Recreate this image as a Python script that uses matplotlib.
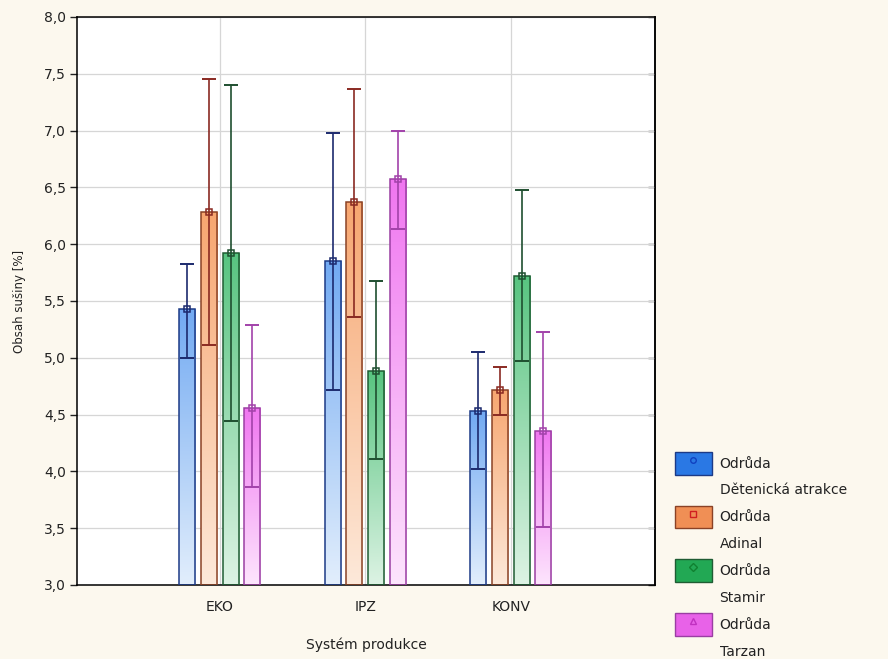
import numpy as np
import matplotlib
matplotlib.use("Agg")
import matplotlib.pyplot as plt
from matplotlib.colors import LinearSegmentedColormap
from matplotlib.patches import Patch
from matplotlib.lines import Line2D
from matplotlib.legend_handler import HandlerTuple
from matplotlib.ticker import FuncFormatter, MultipleLocator

# -----------------------------
# DATA
# -----------------------------
CATEGORIES = ["EKO", "IPZ", "KONV"]
VARIETIES = ["Dětenická atrakce", "Adinal", "Stamir", "Tarzan"]

MEAN_DET = [5.43, 5.85, 4.53]
LOW_DET = [5.00, 4.72, 4.02]
HIGH_DET = [5.83, 6.98, 5.05]

MEAN_ADI = [6.28, 6.37, 4.72]
LOW_ADI = [5.11, 5.36, 4.50]
HIGH_ADI = [7.45, 7.37, 4.92]

MEAN_STA = [5.92, 4.88, 5.72]
LOW_STA = [4.44, 4.11, 4.97]
HIGH_STA = [7.40, 5.68, 6.48]

MEAN_TAR = [4.56, 6.57, 4.36]
LOW_TAR = [3.86, 6.13, 3.51]
HIGH_TAR = [5.29, 7.00, 5.23]

MEANS = [MEAN_DET, MEAN_ADI, MEAN_STA, MEAN_TAR]
LOWS = [LOW_DET, LOW_ADI, LOW_STA, LOW_TAR]
HIGHS = [HIGH_DET, HIGH_ADI, HIGH_STA, HIGH_TAR]

# -----------------------------
# STYLE
# -----------------------------
Y_MIN, Y_MAX = 3.0, 8.0
BG = "#fcf8ee"
TOP_COLORS = ["#72aaf2", "#f7a670", "#58c480", "#f076f0"]
BOTTOM_COLORS = ["#e2eefc", "#fde9da", "#ddf3e4", "#fde5fd"]
EDGE_COLORS = ["#1c3a86", "#8a4226", "#1f5c33", "#9a3ea2"]
ERR_COLORS = ["#1c2a6e", "#8a2a22", "#1f4f30", "#a242aa"]
LEGEND_COLORS = ["#2a78e4", "#f08f55", "#22a854", "#e862e8"]
MARKERS = ["o", "s", "D", "^"]
MARKER_COLORS = ["#1040c0", "#d02020", "#108030", "#c030c0"]

BAR_STEP = 0.149
BAR_W = 0.11

plt.rcParams["font.family"] = ["DejaVu Sans"]
plt.rcParams["font.size"] = 10

fig = plt.figure(figsize=(8.88, 6.59), dpi=100, facecolor=BG)
ax = fig.add_axes([77 / 888, 1 - 585 / 659, (655 - 77) / 888, (585 - 17) / 659])
ax.set_facecolor("white")

xc = np.arange(1, len(CATEGORIES) + 1)

for i in range(len(VARIETIES)):
    xs = xc + (i - 1.5) * BAR_STEP
    means = np.array(MEANS[i])
    lows = np.array(LOWS[i])
    highs = np.array(HIGHS[i])

    bars = ax.bar(xs, means - Y_MIN, bottom=Y_MIN, width=BAR_W,
                  facecolor="none", edgecolor=EDGE_COLORS[i], linewidth=1.1, zorder=4)

    # vertical gradient inside each bar
    cmap = LinearSegmentedColormap.from_list("g%d" % i, [BOTTOM_COLORS[i], TOP_COLORS[i]])
    grad = np.linspace(0, 1, 256).reshape(-1, 1)
    for b in bars:
        x0 = b.get_x()
        im = ax.imshow(grad, extent=[x0, x0 + b.get_width(), Y_MIN, Y_MIN + b.get_height()],
                       origin="lower", cmap=cmap, aspect="auto", zorder=2, interpolation="bicubic")
        im.set_clip_path(b)

    ax.errorbar(xs, means, yerr=[means - lows, highs - means], fmt="none",
                ecolor=ERR_COLORS[i], elinewidth=1.2, capsize=5.2, capthick=1.4, zorder=5)
    ax.plot(xs, means, linestyle="none", marker="s", markersize=5,
            markerfacecolor="none", markeredgecolor=ERR_COLORS[i], markeredgewidth=1.1, zorder=6)

ax.set_xlim(0.02, 3.99)
ax.set_ylim(Y_MIN, Y_MAX)

ax.set_xticks(xc)
ax.set_xticklabels(CATEGORIES)
ax.yaxis.set_major_locator(MultipleLocator(0.5))
ax.yaxis.set_major_formatter(FuncFormatter(lambda v, p: ("%.1f" % v).replace(".", ",")))
ax.tick_params(axis="x", length=0, pad=11, colors="#222222")
ax.tick_params(axis="y", direction="out", length=5, width=1, pad=3, colors="#222222")

# short inward ticks on the right frame
rax = ax.secondary_yaxis("right")
rax.yaxis.set_major_locator(MultipleLocator(0.5))
rax.tick_params(direction="in", length=5, width=1, color="#333333", labelright=False)
rax.spines["right"].set_linewidth(1.1)

ax.grid(True, color="#d6d6d6", linewidth=0.9, zorder=0)
ax.set_axisbelow(True)
for s in ax.spines.values():
    s.set_color("black")
    s.set_linewidth(1.1)

ax.set_ylabel("Obsah sušiny [%]", fontsize=8.5, labelpad=13, color="#222222")
ax.set_xlabel("Systém produkce", fontsize=10, labelpad=17, color="#222222")

# legend: one row with the patch, one row with the variety name
handles = []
labels = []
blank = Patch(facecolor="none", edgecolor="none")
for i, name in enumerate(VARIETIES):
    patch = Patch(facecolor=LEGEND_COLORS[i], edgecolor=EDGE_COLORS[i], linewidth=1.0)
    mark = Line2D([], [], linestyle="none", marker=MARKERS[i], markersize=4,
                  markerfacecolor="none", markeredgecolor=MARKER_COLORS[i], markeredgewidth=1)
    handles += [(patch, mark), blank]
    labels += ["Odrůda", name]

fig.legend(handles, labels, handler_map={tuple: HandlerTuple(ndivide=1)},
           loc="upper left", bbox_to_anchor=(675 / 888, 1 - 452 / 659),
           bbox_transform=fig.transFigure, frameon=False, borderpad=0, borderaxespad=0,
           handlelength=2.66, handleheight=2.12, labelspacing=0.31, handletextpad=0.55,
           fontsize=10, labelcolor="#222222")

fig.savefig("out.png", dpi=100, facecolor=BG)
